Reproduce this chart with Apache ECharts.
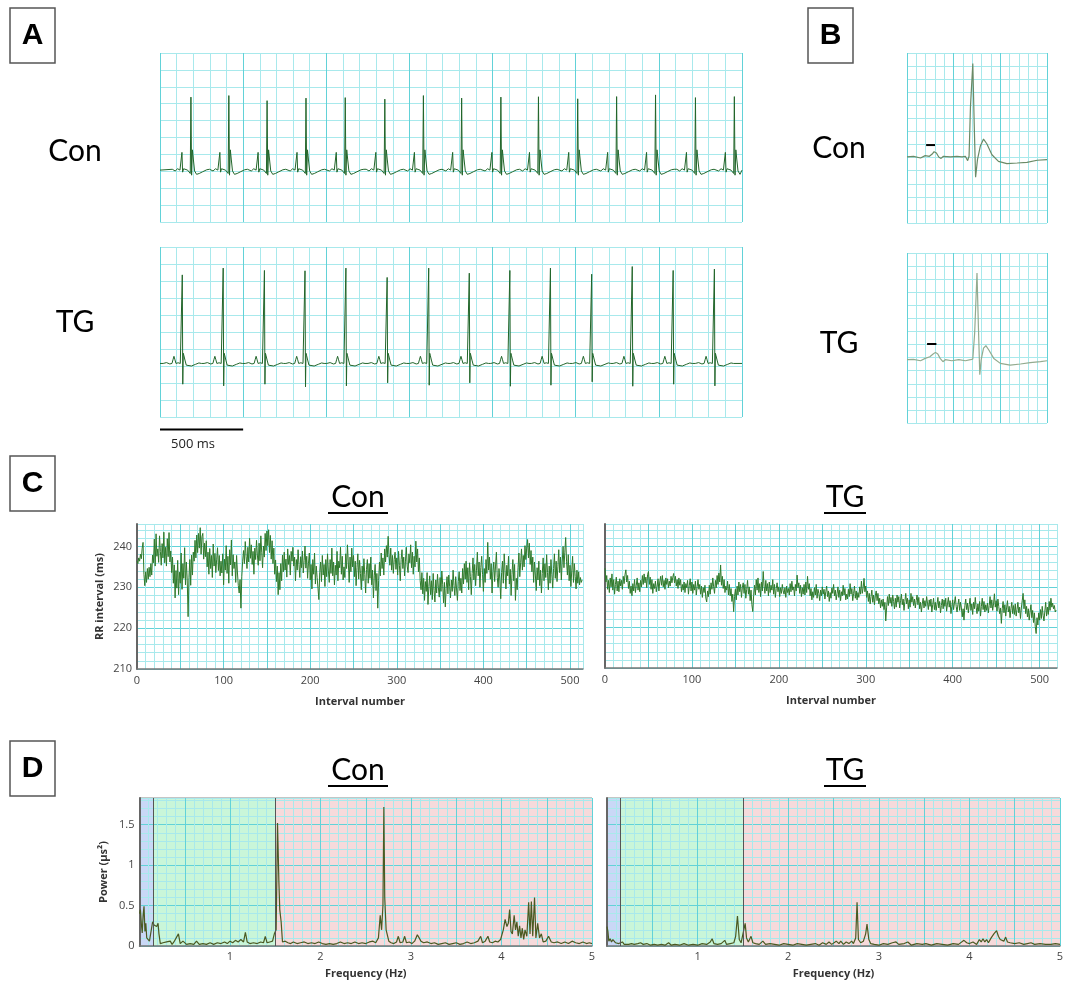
<!DOCTYPE html>
<html>
<head>
<meta charset="utf-8">
<title>ECG and HRV: Con vs TG</title>
<script src="https://cdn.jsdelivr.net/npm/echarts@6/dist/echarts.min.js"></script>
<style>
  html, body { margin: 0; padding: 0; background: #fff; }
  #chart { width: 1071px; height: 990px; }
</style>
</head>
<body>
<div id="chart"></div>
<script>
// ---- A: ECG strips. R-peak times (ms) and R heights (grid rows)
const conBeatMs = [186, 414, 644, 878, 1114, 1352, 1584, 1814, 2050, 2276, 2512, 2746, 2980, 3220, 3454];
const conBeatPeak = [7.39, 7.48, 7.18, 7.33, 7.36, 7.27, 7.48, 7.33, 7.39, 7.41, 7.29, 7.42, 7.52, 7.36, 7.42];
const tgBeatMs = [134, 380, 628, 872, 1118, 1366, 1616, 1860, 2104, 2348, 2596, 2840, 3086, 3334];
const tgBeatPeak = [8.36, 8.76, 8.62, 8.60, 8.76, 8.21, 8.76, 8.46, 8.62, 8.76, 8.40, 8.85, 8.62, 8.70];
const tgBeatTrough = [1.93, 1.83, 1.93, 1.77, 1.83, 2.01, 1.87, 2.01, 1.81, 1.87, 2.07, 1.81, 1.93, 1.83];

// shape of one beat around its R peak: offset (ms) and level above baseline
// 'R' / 'S' take the per-beat value from the arrays above
const conShapeMs = [-112, -95, -80, -66, -58, -54, -50, -44, -32, -20, -10, -4, 0, 4, 9, 15, 22, 34, 50, 70, 95, 112];
const conShapeLv = [0.05, -0.05, 0.08, 0, 0.05, 1.05, -0.12, 0.08, 0.1, 0, 0.05, -0.2, 'R', -0.3, 1.2, 0.6, -0.05, -0.25, -0.2, -0.1, 0.02, 0.05];
const tgShapeMs = [-115, -95, -75, -62, -55, -50, -45, -38, -25, -12, -4, 0, 3, 6, 10, 16, 24, 36, 55, 80, 100, 115];
const tgShapeLv = [0, 0.05, -0.03, 0, 0.25, 0.42, 0.25, 0, 0.04, 0, 0.1, 'R', 'S', 0.6, 0.45, 0.2, -0.1, -0.2, -0.15, -0.05, 0.03, 0];
const conBase = 3.07;
const tgBase = 3.15;

// ---- B: averaged beat (time units, grid rows)
const bConT = [0, 14, 29, 39, 48, 54, 58, 63, 68, 73, 78, 93, 107, 118, 125, 130, 133, 136, 141, 144, 147, 151, 157, 164, 171, 182, 196, 214, 236, 257, 279, 300];
const bConV = [5.05, 5.1, 4.97, 5.15, 5.1, 5.27, 5.45, 5.35, 5.05, 4.94, 5.1, 5.05, 5.1, 5.05, 5.1, 4.77, 5.1, 8.9, 12.2, 7.6, 3.5, 4.84, 5.86, 6.42, 6.06, 5.22, 4.71, 4.54, 4.59, 4.64, 4.8, 4.84];
const bTgT = [0, 14, 29, 39, 49, 56, 61, 66, 71, 77, 82, 96, 111, 125, 136, 141, 145, 150, 153, 156, 159, 164, 169, 175, 186, 200, 221, 243, 264, 286, 300];
const bTgV = [4.84, 4.86, 4.76, 4.94, 5.07, 5.27, 5.4, 5.27, 4.94, 4.69, 4.84, 4.76, 4.84, 4.76, 4.84, 4.89, 6.88, 11.47, 7.39, 3.69, 4.84, 5.73, 5.91, 5.6, 4.94, 4.56, 4.43, 4.51, 4.61, 4.69, 4.76];
const bConMark = [[41, 5.96], [60, 5.96]];
const bTgMark = [[43, 6.04], [63, 6.04]];

// ---- C: RR intervals (ms), one value per interval number
const conRR = [
  236.5, 235.8, 237.2, 236.4, 238.1, 237.0, 239.6, 241.0, 233.2, 230.4,
  233.8, 231.2, 234.6, 232.0, 234.9, 232.6, 235.8, 233.0, 237.9, 236.0,
  241.8, 235.2, 243.1, 237.6, 239.4, 236.1, 242.6, 238.8, 235.4, 240.7,
  237.2, 243.5, 236.0, 239.8, 235.2, 241.9, 237.5, 243.4, 236.2, 238.9,
  233.6, 237.4, 231.0, 235.5, 227.4, 234.1, 229.8, 236.6, 228.2, 233.7,
  231.0, 238.4, 229.5, 235.8, 232.2, 239.7, 230.6, 236.2, 231.8, 222.8,
  232.4, 236.8, 230.5, 237.9, 233.0, 238.6, 236.4, 241.5, 237.2, 242.8,
  238.5, 243.2, 239.6, 244.6, 238.1, 242.4, 243.2, 236.9, 240.8, 237.5,
  241.4, 235.0, 238.6, 233.2, 239.5, 234.6, 237.8, 232.4, 240.6, 235.2,
  238.3, 233.6, 236.9, 239.7, 234.1, 237.8, 232.8, 236.4, 233.5, 238.2,
  230.6, 236.9, 234.2, 240.2, 233.4, 237.6, 231.0, 239.2, 235.5, 241.6,
  232.8, 238.0, 234.6, 236.2, 231.2, 237.8, 233.5, 230.4, 228.6, 231.9,
  224.9, 232.6, 236.4, 239.0, 235.8, 241.2, 237.6, 234.6, 239.8, 236.2,
  242.0, 237.1, 240.4, 235.6, 238.8, 233.2, 239.6, 236.8, 241.5, 237.9,
  235.4, 240.8, 236.5, 242.6, 238.6, 234.8, 240.1, 237.4, 243.2, 239.0,
  243.8, 240.2, 244.1, 238.5, 242.7, 236.9, 241.4, 235.8, 239.6, 233.2,
  236.7, 231.4, 235.2, 228.2, 233.6, 229.4, 235.8, 231.6, 237.9, 233.8,
  238.6, 234.2, 236.9, 232.5, 239.4, 235.6, 237.8, 233.0, 238.8, 236.4,
  239.8, 235.2, 237.4, 231.6, 236.8, 234.2, 239.2, 235.6, 232.4, 237.5,
  234.8, 238.9, 233.5, 236.6, 240.1, 234.7, 237.6, 232.2, 235.9, 238.4,
  231.8, 235.6, 229.6, 236.8, 233.2, 238.4, 230.8, 235.2, 232.4, 229.8,
  227.0, 233.6, 236.2, 231.4, 237.8, 233.0, 235.6, 230.2, 236.8, 232.6,
  238.2, 234.0, 231.2, 236.8, 233.4, 239.6, 232.8, 236.2, 230.6, 235.4,
  233.0, 238.8, 231.6, 236.4, 234.8, 239.8, 233.2, 237.6, 231.8, 235.0,
  232.4, 238.2, 234.6, 240.4, 236.2, 231.2, 237.4, 233.8, 239.6, 235.0,
  237.8, 232.6, 236.4, 230.4, 234.8, 238.2, 232.0, 236.6, 233.4, 229.4,
  235.2, 231.6, 237.0, 233.2, 228.6, 234.4, 236.8, 231.0, 235.8, 232.2,
  237.4, 230.6, 234.2, 227.4, 232.8, 235.6, 229.2, 233.4, 224.9, 231.6,
  236.2, 232.8, 238.4, 234.6, 237.2, 233.0, 239.4, 236.2, 240.2, 237.4,
  242.5, 238.0, 235.4, 239.6, 234.2, 237.8, 233.4, 236.8, 238.6, 234.4,
  237.2, 233.0, 238.8, 235.4, 231.6, 236.8, 239.2, 234.6, 237.4, 232.8,
  236.4, 239.8, 235.2, 233.6, 238.2, 236.0, 240.4, 234.8, 238.6, 233.2,
  237.6, 235.0, 241.3, 236.2, 239.4, 233.8, 237.2, 231.6, 229.4, 233.6,
  228.4, 232.2, 226.8, 231.4, 229.0, 233.6, 225.8, 230.2, 232.8, 228.2,
  231.6, 227.0, 233.4, 229.2, 226.4, 231.8, 228.6, 233.2, 230.0, 227.6,
  232.4, 229.0, 234.0, 230.6, 226.2, 231.2, 225.2, 229.8, 232.6, 228.4,
  233.0, 230.2, 227.4, 231.8, 229.0, 234.2, 230.4, 228.0, 232.6, 229.6,
  226.8, 231.4, 233.8, 229.2, 232.2, 228.6, 234.6, 230.8, 235.8, 232.0,
  236.4, 231.2, 234.8, 229.4, 236.0, 232.6, 228.2, 233.4, 237.2, 231.8,
  235.6, 230.4, 234.2, 238.6, 232.8, 236.2, 230.0, 234.8, 237.6, 233.2,
  229.0, 234.6, 231.2, 236.8, 233.4, 241.0, 234.2, 237.4, 232.0, 235.8,
  228.6, 233.8, 236.2, 231.4, 235.2, 238.6, 232.4, 230.0, 234.6, 231.8,
  227.2, 233.6, 236.4, 231.0, 238.2, 234.0, 229.6, 235.4, 232.8, 237.6,
  230.8, 234.4, 228.0, 233.2, 236.8, 231.6, 235.6, 226.8, 232.2, 229.4,
  234.8, 238.4, 232.6, 236.0, 239.4, 234.2, 237.8, 235.0, 240.2, 236.8,
  239.6, 241.7, 237.2, 240.8, 235.6, 239.0, 233.8, 237.4, 231.2, 236.2,
  233.0, 229.2, 234.8, 231.8, 236.4, 230.4, 234.2, 228.6, 233.4, 237.2,
  231.6, 235.8, 232.4, 238.0, 233.6, 229.4, 235.2, 231.0, 236.8, 233.2,
  229.8, 234.6, 238.2, 232.2, 236.4, 231.4, 235.0, 239.2, 233.6, 237.4,
  231.8, 236.2, 240.0, 234.8, 238.6, 242.2, 236.4, 233.0, 238.0, 231.6,
  235.4, 230.2, 234.0, 237.6, 231.2, 235.8, 232.6, 229.6, 234.2, 231.0,
  233.8, 230.6, 232.4, 231.2, 231.8
];
const tgRR = [
  234.6, 231.2, 232.8, 229.4, 231.6, 228.6, 232.2, 230.0, 233.2, 229.2,
  231.8, 228.2, 230.6, 232.4, 229.0, 231.4, 228.8, 232.0, 230.2, 231.6,
  229.4, 232.6, 230.8, 233.0, 234.2, 231.2, 232.8, 229.6, 231.4, 228.4,
  230.2, 227.8, 230.8, 229.0, 231.8, 228.6, 230.4, 232.2, 229.2, 231.0,
  228.8, 231.6, 230.0, 232.8, 230.6, 233.2, 231.0, 232.4, 229.8, 233.0,
  233.8, 230.6, 232.4, 229.4, 231.8, 228.4, 230.8, 229.6, 231.4, 228.8,
  230.2, 232.0, 229.0, 231.2, 232.6, 230.4, 232.8, 230.0, 231.6, 229.4,
  232.2, 230.6, 232.0, 229.8, 231.4, 230.2, 232.6, 231.0, 232.4, 233.3,
  231.0, 232.6, 230.2, 231.8, 229.6, 232.2, 230.4, 231.8, 228.8, 230.6,
  229.2, 231.2, 228.6, 230.8, 229.8, 231.6, 228.2, 230.4, 232.0, 229.0,
  231.2, 228.4, 230.6, 229.2, 231.4, 228.0, 230.0, 231.8, 229.4, 230.6,
  228.2, 230.2, 227.4, 229.8, 228.6, 230.4, 227.2, 226.3, 229.0, 227.6,
  230.4, 228.2, 231.0, 229.4, 232.2, 230.0, 228.4, 231.6, 229.8, 232.8,
  230.6, 233.4, 231.2, 235.4, 230.4, 232.6, 229.6, 231.8, 228.6, 230.2,
  229.2, 231.4, 228.0, 230.6, 227.8, 229.6, 226.4, 228.2, 223.9, 227.6,
  229.4, 226.8, 230.2, 228.0, 231.2, 228.8, 230.6, 227.4, 229.8, 231.0,
  228.4, 230.6, 227.2, 229.4, 231.6, 228.2, 230.0, 226.6, 229.2, 225.6,
  223.9, 227.8, 230.4, 228.0, 231.8, 229.2, 232.2, 228.6, 230.8, 227.6,
  231.2, 229.0, 233.8, 230.2, 228.4, 231.6, 229.0, 230.8, 227.8, 231.2,
  228.6, 230.4, 229.2, 231.8, 228.2, 230.6, 227.4, 229.6, 231.0, 228.8,
  230.0, 227.6, 229.8, 228.4, 230.6, 229.0, 228.2, 229.8, 227.4, 230.2,
  228.6, 229.6, 228.0, 230.8, 228.8, 231.4, 229.2, 230.0, 227.8, 230.6,
  229.0, 232.9, 229.8, 231.0, 228.4, 230.4, 227.6, 229.8, 228.2, 230.6,
  228.0, 231.2, 228.6, 232.6, 229.4, 230.8, 227.8, 229.6, 226.8, 228.8,
  227.4, 229.8, 228.0, 230.6, 227.2, 229.4, 228.4, 226.6, 229.2, 227.8,
  230.0, 228.2, 229.4, 227.0, 228.8, 230.2, 227.6, 229.0, 226.4, 228.6,
  227.2, 229.8, 228.4, 230.6, 227.8, 229.2, 226.8, 228.4, 230.0, 227.4,
  229.2, 226.6, 228.8, 227.8, 230.4, 228.0, 229.6, 226.8, 228.2, 227.0,
  229.4, 227.6, 230.8, 228.2, 229.6, 226.6, 228.4, 230.2, 227.2, 229.0,
  226.8, 228.6, 227.4, 230.0, 228.2, 231.4, 228.4, 229.8, 232.1, 228.8,
  230.2, 227.4, 229.0, 226.4, 228.4, 225.8, 227.6, 229.2, 226.2, 228.0,
  225.6, 227.8, 229.0, 226.6, 228.4, 225.8, 227.2, 224.8, 226.8, 225.2,
  227.0, 224.4, 226.2, 221.6, 225.0, 227.6, 225.4, 228.2, 226.0, 227.4,
  225.2, 228.0, 226.4, 224.6, 227.2, 225.0, 228.0, 226.2, 227.6, 224.8,
  226.6, 228.2, 225.6, 227.0, 224.2, 226.4, 228.4, 225.8, 227.2, 224.6,
  226.8, 225.0, 228.4, 226.2, 227.6, 225.4, 227.0, 224.8, 226.6, 228.0,
  225.6, 227.4, 224.6, 226.2, 223.8, 225.8, 227.2, 224.8, 226.6, 225.2,
  227.6, 226.0, 224.4, 226.8, 225.2, 227.0, 223.8, 225.6, 227.2, 224.4,
  226.2, 224.2, 225.8, 227.4, 224.8, 226.4, 223.6, 225.4, 227.0, 224.6,
  226.8, 225.2, 227.2, 224.0, 225.8, 227.4, 225.0, 226.6, 223.4, 225.2,
  226.8, 224.4, 226.0, 227.6, 225.2, 223.8, 225.6, 227.0, 224.2, 226.2,
  224.8, 222.6, 224.6, 221.8, 225.4, 227.0, 224.4, 226.0, 223.6, 225.6,
  227.2, 224.2, 225.8, 223.2, 226.2, 224.6, 227.4, 225.0, 223.4, 225.8,
  224.0, 226.4, 222.8, 225.2, 227.2, 224.4, 226.4, 223.8, 225.6, 224.2,
  226.0, 223.6, 225.4, 227.6, 224.8, 226.8, 224.2, 225.8, 228.3, 225.0,
  226.6, 224.0, 227.0, 225.2, 223.4, 224.8, 221.0, 224.6, 226.4, 223.6,
  225.6, 222.8, 224.8, 226.6, 223.8, 225.2, 222.4, 224.6, 226.2, 223.4,
  225.4, 223.2, 225.8, 222.8, 224.4, 226.2, 223.6, 225.0, 222.2, 224.8,
  226.6, 228.4, 224.6, 226.8, 223.4, 225.2, 222.6, 224.6, 221.8, 223.8,
  225.6, 222.4, 224.2, 221.2, 223.6, 220.2, 218.5, 222.4, 220.6, 223.6,
  221.8, 224.4, 222.2, 225.2, 223.0, 221.6, 224.0, 226.2, 222.8, 225.0,
  223.2, 226.4, 224.2, 227.2, 225.0, 226.0, 224.6, 225.4, 223.8, 224.3
];

// ---- D: power spectra [frequency Hz, power]
const conSpec = [
  [0, 0.40], [0.01, 0.45], [0.02, 0.28], [0.03, 0.16], [0.04, 0.38], [0.05, 0.49], [0.06, 0.18], [0.07, 0.28],
  [0.08, 0.10], [0.09, 0.12], [0.10, 0.08], [0.11, 0.06], [0.12, 0.08], [0.13, 0.06], [0.145, 0.30], [0.16, 0.26],
  [0.175, 0.28], [0.19, 0.24], [0.205, 0.28], [0.215, 0.15], [0.23, 0.03], [0.26, 0.04], [0.28, 0.02], [0.30, 0.05],
  [0.32, 0.03], [0.34, 0.06], [0.36, 0.02], [0.38, 0.05], [0.40, 0.04], [0.43, 0.15], [0.45, 0.03], [0.48, 0.06],
  [0.52, 0.02], [0.56, 0.03], [0.60, 0.02], [0.63, 0.06], [0.66, 0.02], [0.70, 0.03], [0.74, 0.02], [0.78, 0.04],
  [0.82, 0.02], [0.86, 0.04], [0.90, 0.03], [0.94, 0.05], [0.97, 0.03], [1.00, 0.06], [1.03, 0.04], [1.06, 0.07],
  [1.09, 0.05], [1.12, 0.08], [1.15, 0.05], [1.17, 0.17], [1.19, 0.05], [1.22, 0.03], [1.26, 0.04], [1.30, 0.03],
  [1.34, 0.05], [1.37, 0.04], [1.39, 0.12], [1.41, 0.04], [1.44, 0.05], [1.47, 0.06], [1.49, 0.15], [1.51, 0.20],
  [1.525, 1.52], [1.54, 0.80], [1.55, 0.45], [1.565, 0.30], [1.58, 0.05], [1.61, 0.06], [1.64, 0.04], [1.67, 0.03],
  [1.70, 0.05], [1.74, 0.03], [1.78, 0.04], [1.82, 0.05], [1.86, 0.03], [1.90, 0.04], [1.94, 0.03], [1.98, 0.05],
  [2.02, 0.03], [2.06, 0.02], [2.10, 0.03], [2.14, 0.02], [2.18, 0.03], [2.22, 0.05], [2.26, 0.03], [2.30, 0.04],
  [2.34, 0.03], [2.38, 0.05], [2.42, 0.03], [2.46, 0.04], [2.50, 0.03], [2.54, 0.05], [2.58, 0.06], [2.61, 0.04],
  [2.64, 0.10], [2.66, 0.38], [2.675, 0.20], [2.69, 0.50], [2.70, 1.72], [2.71, 0.60], [2.725, 0.20], [2.74, 0.20],
  [2.755, 0.06], [2.78, 0.04], [2.81, 0.03], [2.84, 0.05], [2.86, 0.12], [2.88, 0.04], [2.91, 0.05], [2.93, 0.12],
  [2.95, 0.04], [2.98, 0.05], [3.01, 0.03], [3.04, 0.06], [3.07, 0.14], [3.09, 0.10], [3.11, 0.06], [3.14, 0.04],
  [3.18, 0.05], [3.22, 0.03], [3.26, 0.04], [3.30, 0.02], [3.34, 0.03], [3.38, 0.04], [3.42, 0.02], [3.46, 0.03],
  [3.50, 0.04], [3.54, 0.02], [3.58, 0.03], [3.62, 0.05], [3.66, 0.03], [3.70, 0.04], [3.74, 0.06], [3.77, 0.12],
  [3.79, 0.04], [3.82, 0.06], [3.85, 0.12], [3.87, 0.05], [3.90, 0.04], [3.93, 0.06], [3.96, 0.05], [3.99, 0.08],
  [4.02, 0.20], [4.04, 0.33], [4.06, 0.24], [4.075, 0.28], [4.09, 0.45], [4.105, 0.18], [4.12, 0.15], [4.14, 0.38],
  [4.155, 0.20], [4.17, 0.30], [4.185, 0.12], [4.20, 0.25], [4.215, 0.10], [4.23, 0.22], [4.245, 0.08], [4.26, 0.20],
  [4.28, 0.12], [4.30, 0.54], [4.315, 0.15], [4.33, 0.55], [4.345, 0.12], [4.365, 0.60], [4.38, 0.10], [4.40, 0.28],
  [4.42, 0.10], [4.44, 0.15], [4.46, 0.05], [4.49, 0.06], [4.52, 0.12], [4.55, 0.05], [4.58, 0.04], [4.62, 0.05],
  [4.66, 0.03], [4.70, 0.05], [4.74, 0.03], [4.78, 0.06], [4.82, 0.04], [4.86, 0.03], [4.90, 0.05], [4.94, 0.03],
  [4.97, 0.04], [5.00, 0.03]
];
const tgSpec = [
  [0, 0.24], [0.01, 0.18], [0.02, 0.06], [0.035, 0.09], [0.05, 0.05], [0.065, 0.08], [0.08, 0.10], [0.095, 0.04],
  [0.11, 0.05], [0.13, 0.03], [0.15, 0.02], [0.17, 0.05], [0.19, 0.02], [0.21, 0.04], [0.24, 0.02], [0.27, 0.03],
  [0.30, 0.02], [0.34, 0.03], [0.37, 0.04], [0.40, 0.02], [0.44, 0.03], [0.48, 0.01], [0.52, 0.02], [0.56, 0.01],
  [0.60, 0.02], [0.64, 0.01], [0.68, 0.04], [0.71, 0.01], [0.75, 0.02], [0.80, 0.01], [0.85, 0.03], [0.90, 0.01],
  [0.95, 0.02], [1.00, 0.01], [1.05, 0.03], [1.10, 0.02], [1.14, 0.05], [1.16, 0.09], [1.18, 0.03], [1.22, 0.02],
  [1.26, 0.03], [1.30, 0.07], [1.32, 0.02], [1.36, 0.03], [1.40, 0.04], [1.42, 0.12], [1.44, 0.37], [1.46, 0.08],
  [1.48, 0.04], [1.50, 0.06], [1.525, 0.28], [1.54, 0.10], [1.56, 0.05], [1.59, 0.12], [1.61, 0.04], [1.64, 0.03],
  [1.68, 0.02], [1.72, 0.06], [1.75, 0.02], [1.80, 0.03], [1.85, 0.02], [1.90, 0.01], [1.95, 0.03], [2.00, 0.02],
  [2.05, 0.01], [2.10, 0.03], [2.15, 0.02], [2.20, 0.01], [2.25, 0.02], [2.30, 0.03], [2.34, 0.01], [2.38, 0.04],
  [2.42, 0.02], [2.45, 0.05], [2.48, 0.02], [2.53, 0.06], [2.56, 0.03], [2.58, 0.06], [2.61, 0.02], [2.64, 0.05],
  [2.67, 0.03], [2.70, 0.06], [2.72, 0.03], [2.745, 0.10], [2.76, 0.54], [2.775, 0.08], [2.80, 0.04], [2.83, 0.06],
  [2.855, 0.15], [2.87, 0.27], [2.89, 0.08], [2.91, 0.03], [2.95, 0.02], [3.00, 0.01], [3.05, 0.03], [3.10, 0.02],
  [3.15, 0.04], [3.19, 0.05], [3.22, 0.02], [3.28, 0.03], [3.32, 0.05], [3.36, 0.01], [3.42, 0.03], [3.48, 0.02],
  [3.52, 0.03], [3.58, 0.01], [3.64, 0.03], [3.70, 0.02], [3.76, 0.01], [3.82, 0.03], [3.88, 0.02], [3.94, 0.07],
  [3.97, 0.04], [4.00, 0.03], [4.04, 0.05], [4.08, 0.02], [4.11, 0.08], [4.13, 0.05], [4.15, 0.09], [4.17, 0.05],
  [4.19, 0.08], [4.21, 0.04], [4.24, 0.10], [4.27, 0.15], [4.30, 0.19], [4.32, 0.12], [4.34, 0.08], [4.36, 0.10],
  [4.38, 0.06], [4.40, 0.11], [4.42, 0.05], [4.45, 0.04], [4.50, 0.03], [4.55, 0.04], [4.60, 0.02], [4.64, 0.03],
  [4.68, 0.04], [4.72, 0.02], [4.78, 0.03], [4.84, 0.02], [4.90, 0.02], [4.95, 0.03], [5.00, 0.02]
];
// frequency bands (Hz) shaded in D
const bandEdges = [0, 0.15, 1.5, 5];
const bandColors = ['#c9d8f6', '#c9f6d9', '#f6dadb'];
const powerTop = 1.83;

const MAJOR = '#62d2d8';
const MINOR = '#a8e9ec';
const TICK_FONT = '"Open Sans", sans-serif';

function buildStrip(beats, peaks, troughs, shapeMs, shapeLv, base, tEnd) {
  const pts = [[0, base]];
  beats.forEach(function (t0, k) {
    shapeMs.forEach(function (dt, j) {
      const t = t0 + dt;
      if (t < 0 || t > tEnd) return;
      let v = shapeLv[j];
      if (v === 'R') v = peaks[k];
      else if (v === 'S') v = troughs[k];
      else v = base + v;
      pts.push([t, v]);
    });
  });
  pts.push([tEnd, base]);
  return pts;
}

function zip(xs, ys) {
  return xs.map(function (x, i) { return [x, ys[i]]; });
}

// one split line per small step; every n-th line (from min) is a major line
function lineCycle(n) {
  const c = [MAJOR];
  for (let i = 1; i < n; i++) c.push(MINOR);
  return c;
}

function gridAxis(gi, min, max, step, every, extra) {
  return Object.assign({
    gridIndex: gi, type: 'value', min: min, max: max, interval: step,
    axisLine: { show: false }, axisTick: { show: false }, axisLabel: { show: false },
    splitLine: { show: true, lineStyle: { color: lineCycle(every), width: 1 } },
    minorTick: { show: false }, minorSplitLine: { show: false }
  }, extra || {});
}

const grids = [
  { left: 160, top: 53, width: 582, height: 169 },     // A Con
  { left: 160, top: 247, width: 582, height: 170 },    // A TG
  { left: 907, top: 53, width: 140, height: 170 },     // B Con
  { left: 907, top: 253, width: 140, height: 170 },    // B TG
  { left: 137, top: 524, width: 446, height: 145 },    // C Con
  { left: 605, top: 524, width: 452, height: 144 },    // C TG
  { left: 139.5, top: 798, width: 452.5, height: 148, show: true, borderColor: '#8a8a8a', borderWidth: 1 }, // D Con
  { left: 607, top: 798, width: 453, height: 148, show: true, borderColor: '#8a8a8a', borderWidth: 1 }      // D TG
].map(function (g) { return Object.assign({ outerBoundsMode: 'none', containLabel: false }, g); });

const rowLine = { show: true, lineStyle: { color: MINOR, width: 1 } };
const tickLabel = { show: true, color: '#444', fontSize: 11, fontFamily: TICK_FONT };
const axisName = { fontWeight: 'bold', fontSize: 11, color: '#333', fontFamily: TICK_FONT };

function onStep(v, step) {
  return Math.abs(v / step - Math.round(v / step)) < 1e-6;
}

function rrX(gi, max) {
  return gridAxis(gi, 0, max, 10, 5, {
    axisLine: { show: true, onZero: false, lineStyle: { color: '#777', width: 1.5 } },
    axisLabel: Object.assign({}, tickLabel, { margin: 6, formatter: function (v) { return onStep(v, 100) ? String(v) : ''; } }),
    name: 'Interval number', nameLocation: 'middle', nameGap: 27, nameTextStyle: axisName
  });
}
function rrY(gi, labels) {
  return gridAxis(gi, 210, 245.5, 2, 5, {
    axisLine: { show: true, onZero: false, lineStyle: { color: '#666', width: 2 } },
    axisLabel: labels ? Object.assign({}, tickLabel, {
      margin: 5, showMaxLabel: false,
      formatter: function (v) { return onStep(v, 10) ? String(v) : ''; }
    }) : { show: false },
    name: labels ? 'RR interval (ms)' : '', nameLocation: 'middle', nameGap: 32, nameTextStyle: axisName
  });
}
function freqX(gi) {
  return gridAxis(gi, 0, 5, 0.1, 5, {
    z: 2,
    axisLine: { show: true, onZero: false, lineStyle: { color: '#777', width: 1.5 } },
    axisLabel: Object.assign({}, tickLabel, {
      margin: 5,
      formatter: function (v) { return v > 0.5 && onStep(v, 1) ? String(Math.round(v)) : ''; }
    }),
    name: 'Frequency (Hz)', nameLocation: 'middle', nameGap: 22, nameTextStyle: axisName
  });
}
function powY(gi, labels) {
  return gridAxis(gi, 0, powerTop, 0.1, 5, {
    z: 2,
    axisLine: { show: true, onZero: false, lineStyle: { color: '#666', width: 2 } },
    axisLabel: labels ? Object.assign({}, tickLabel, {
      margin: 5, showMaxLabel: false,
      formatter: function (v) { return onStep(v, 0.5) ? String(Math.round(v * 10) / 10) : ''; }
    }) : { show: false },
    name: labels ? 'Power (μs²)' : '', nameLocation: 'middle', nameGap: 30, nameTextStyle: axisName
  });
}

const xAxes = [
  gridAxis(0, 0, 3500, 100, 5),
  gridAxis(1, 0, 3500, 100, 5),
  gridAxis(2, 0, 300, 20, 5),
  gridAxis(3, 0, 300, 20, 5),
  rrX(4, 515),
  rrX(5, 520),
  freqX(6),
  freqX(7)
];
const yAxes = [
  gridAxis(0, 0, 10, 1, 1, { splitLine: rowLine }),
  gridAxis(1, 0, 10, 1, 1, { splitLine: rowLine }),
  gridAxis(2, 0, 13, 1, 1, { splitLine: rowLine }),
  gridAxis(3, 0, 13, 1, 1, { splitLine: rowLine }),
  rrY(4, true),
  rrY(5, false),
  powY(6, true),
  powY(7, false)
];

function lineSeries(ai, data, color, width, extra) {
  return Object.assign({
    type: 'line', xAxisIndex: ai, yAxisIndex: ai, data: data,
    symbol: 'none', silent: true, z: 3,
    lineStyle: { color: color, width: width }
  }, extra || {});
}

function bandSeries(ai) {
  const out = [];
  for (let i = 0; i < bandColors.length; i++) {
    const s = lineSeries(ai, [[bandEdges[i], powerTop], [bandEdges[i + 1], powerTop]], bandColors[i], 0, {
      z: 1,
      areaStyle: { color: bandColors[i], opacity: 1 }
    });
    if (i === 1) {
      s.markLine = {
        silent: true, symbol: 'none', label: { show: false },
        lineStyle: { color: '#555', type: 'solid', width: 1 },
        data: [{ xAxis: bandEdges[1] }, { xAxis: bandEdges[2] }]
      };
    }
    out.push(s);
  }
  return out;
}

const ECG_GREEN = '#22662a';
const series = [
  lineSeries(0, buildStrip(conBeatMs, conBeatPeak, [], conShapeMs, conShapeLv, conBase, 3500), ECG_GREEN, 1),
  lineSeries(1, buildStrip(tgBeatMs, tgBeatPeak, tgBeatTrough, tgShapeMs, tgShapeLv, tgBase, 3500), ECG_GREEN, 1),
  // 500 ms scale bar under the TG strip
  lineSeries(1, [[0, -0.73], [500, -0.73]], '#000', 2, { clip: false }),
  lineSeries(2, zip(bConT, bConV), '#6a8a66', 1.2),
  lineSeries(3, zip(bTgT, bTgV), '#93ab8f', 1.2),
  lineSeries(2, bConMark, '#000', 2),
  lineSeries(3, bTgMark, '#000', 2),
  lineSeries(4, conRR.map(function (v, i) { return [i, v]; }), '#2f7a2b', 1),
  lineSeries(5, tgRR.map(function (v, i) { return [i, v]; }), '#2f7a2b', 1)
].concat(bandSeries(6), bandSeries(7), [
  lineSeries(6, conSpec, '#4b5a22', 1.2),
  lineSeries(7, tgSpec, '#4b5a22', 1.2)
]);

function label(s, x, y, size, weight) {
  return {
    type: 'text', x: x, y: y, z: 10,
    style: {
      text: s, fill: '#000',
      font: (weight || 'normal') + ' ' + size + 'px Lato, "Open Sans", sans-serif',
      align: 'center', verticalAlign: 'middle',
      textAlign: 'center', textVerticalAlign: 'middle'
    }
  };
}
function box(s, x, y) {
  return [
    { type: 'rect', z: 10, shape: { x: x, y: y, width: 45, height: 55 },
      style: { fill: '#fff', stroke: '#555', lineWidth: 1.5 } },
    {
      type: 'text', x: x + 22.5, y: y + 28, z: 11,
      style: {
        text: s, fill: '#000', font: 'bold 30px "Liberation Sans", Arial, sans-serif',
        align: 'center', verticalAlign: 'middle', textAlign: 'center', textVerticalAlign: 'middle'
      }
    }
  ];
}
function underlined(s, x, y, half) {
  return [
    label(s, x, y, 30),
    { type: 'line', z: 10, shape: { x1: x - half, y1: y + 16, x2: x + half, y2: y + 16 },
      style: { stroke: '#000', lineWidth: 2 } }
  ];
}

const graphics = [].concat(
  box('A', 10, 8), box('B', 808, 8), box('C', 10, 456), box('D', 10, 741),
  [label('Con', 75, 151, 30), label('TG', 75, 322, 30), label('Con', 839, 148, 30), label('TG', 839, 343, 30)],
  underlined('Con', 358, 497, 30), underlined('TG', 845, 497, 21),
  underlined('Con', 358, 770, 30), underlined('TG', 845, 770, 21),
  [{
    type: 'text', x: 193, y: 444, z: 10,
    style: { text: '500 ms', fill: '#222', font: '13px "Open Sans", sans-serif',
      align: 'center', verticalAlign: 'middle', textAlign: 'center', textVerticalAlign: 'middle' }
  }]
);

const chart = echarts.init(document.getElementById('chart'), null, { renderer: 'canvas' });
chart.setOption({
  backgroundColor: '#fff',
  animation: false,
  grid: grids,
  xAxis: xAxes,
  yAxis: yAxes,
  series: series,
  graphic: graphics
});
</script>
</body>
</html>
